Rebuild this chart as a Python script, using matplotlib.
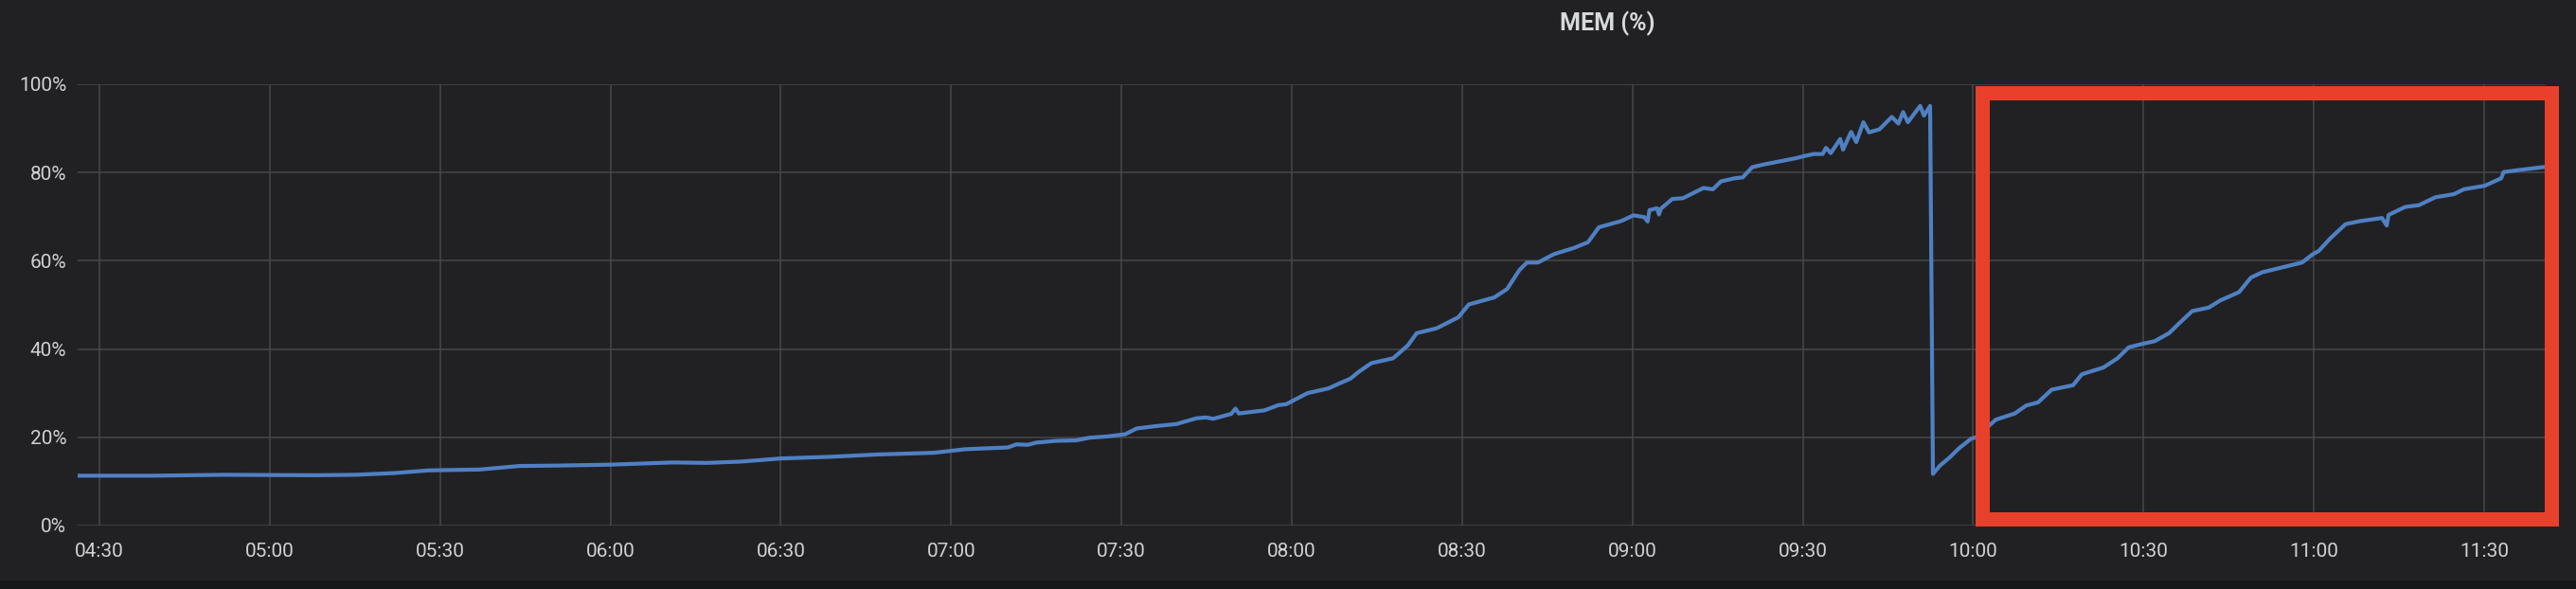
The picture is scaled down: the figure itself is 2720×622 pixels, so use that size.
import matplotlib
matplotlib.use('Agg')
import matplotlib.pyplot as plt
import matplotlib.dates as mdates
from matplotlib.patches import Rectangle
import pandas as pd

plt.rcParams['font.family'] = ['Roboto', 'DejaVu Sans']

# memory usage samples (time of day, percent)
times = [
    '04:26:00', '04:39:30', '04:52:00', '05:08:00', '05:15:00', '05:22:00', '05:28:00',
    '05:37:00', '05:44:00', '05:51:00', '06:00:00', '06:11:00', '06:17:00', '06:23:00',
    '06:30:00', '06:39:00', '06:47:00', '06:57:00', '07:02:30', '07:10:00', '07:11:30',
    '07:13:30', '07:15:00', '07:18:30', '07:22:00', '07:24:20', '07:27:30', '07:30:40',
    '07:32:40', '07:35:50', '07:39:40', '07:43:10', '07:44:50', '07:46:10', '07:49:20',
    '07:50:05', '07:50:40', '07:55:10', '07:57:40', '07:59:00', '08:02:45', '08:06:30',
    '08:07:40', '08:10:20', '08:11:45', '08:14:00', '08:17:50', '08:20:25', '08:22:00',
    '08:25:30', '08:29:20', '08:31:10', '08:35:40', '08:37:55', '08:40:05', '08:41:25',
    '08:43:20', '08:46:10', '08:49:40', '08:52:10', '08:54:05', '08:58:00', '09:00:10',
    '09:02:05', '09:02:40', '09:03:00', '09:04:20', '09:04:40', '09:05:00', '09:07:00',
    '09:08:55', '09:12:30', '09:14:10', '09:15:35', '09:18:00', '09:19:25', '09:21:05',
    '09:23:00', '09:25:50', '09:28:35', '09:30:10', '09:31:55', '09:33:30', '09:34:05',
    '09:34:55', '09:36:35', '09:37:05', '09:38:30', '09:39:25', '09:40:40', '09:41:40',
    '09:43:30', '09:45:40', '09:46:50', '09:47:40', '09:48:30', '09:50:40', '09:51:20',
    '09:52:25', '09:52:55', '09:54:10', '09:55:50', '09:57:30', '09:59:40', '10:00:30',
    '10:04:00', '10:07:20', '10:09:20', '10:11:25', '10:13:50', '10:17:35', '10:19:10',
    '10:22:55', '10:25:25', '10:27:25', '10:29:35', '10:32:00', '10:34:30', '10:36:30',
    '10:38:35', '10:41:30', '10:43:30', '10:46:50', '10:48:55', '10:50:55', '10:55:05',
    '10:57:55', '10:59:50', '11:00:50', '11:02:55', '11:05:35', '11:08:10', '11:12:00',
    '11:12:50', '11:13:10', '11:16:05', '11:18:30', '11:21:25', '11:24:40', '11:26:25',
    '11:30:05', '11:33:00', '11:33:25', '11:36:20', '11:40:50',
]
mem_pct = [
    11.3, 11.3, 11.5, 11.4, 11.5, 11.9, 12.5,
    12.7, 13.5, 13.6, 13.8, 14.3, 14.2, 14.5,
    15.2, 15.6, 16.1, 16.5, 17.3, 17.7, 18.4,
    18.3, 18.8, 19.2, 19.3, 19.9, 20.2, 20.7,
    22.0, 22.5, 23.0, 24.3, 24.5, 24.2, 25.3,
    26.5, 25.4, 26.1, 27.3, 27.5, 30.0, 31.1,
    31.8, 33.3, 34.8, 36.8, 37.9, 40.8, 43.6,
    44.7, 47.2, 50.1, 51.7, 53.6, 57.9, 59.6,
    59.6, 61.5, 62.9, 64.2, 67.6, 69.0, 70.3,
    69.9, 68.9, 71.5, 71.9, 70.5, 71.8, 74.0,
    74.2, 76.5, 76.2, 78.0, 78.7, 78.9, 81.2,
    81.8, 82.5, 83.2, 83.7, 84.2, 84.2, 85.6,
    84.4, 87.6, 85.2, 89.2, 86.9, 91.4, 89.1,
    89.8, 92.6, 91.1, 93.7, 91.4, 95.1, 92.9,
    95.1, 11.7, 13.6, 15.4, 17.5, 19.7, 20.0,
    24.0, 25.4, 27.2, 27.9, 30.8, 31.8, 34.3,
    35.8, 37.9, 40.4, 41.1, 41.8, 43.6, 46.1,
    48.6, 49.4, 51.0, 52.9, 56.2, 57.4, 58.7,
    59.6, 61.5, 62.2, 65.1, 68.3, 69.0, 69.7,
    68.0, 70.4, 72.2, 72.6, 74.4, 75.1, 76.2,
    77.0, 78.7, 80.1, 80.6, 81.3,
]
y_ticks = [0, 20, 40, 60, 80, 100]
title = 'MEM (%)'

day = '2021-01-01 '
t = pd.to_datetime([day + s for s in times])

bg = '#212124'
fig = plt.figure(figsize=(27.2, 6.22), dpi=100, facecolor='#161719')
fig.add_artist(Rectangle((0, 9 / 622), 1, 1, transform=fig.transFigure,
                         facecolor=bg, edgecolor='none', zorder=-10))

ax = fig.add_axes([82 / 2720, 1 - 555 / 622, (2688 - 82) / 2720, (555 - 89) / 622])
ax.set_facecolor(bg)
ax.plot(t, mem_pct, color='#4f80c2', lw=3.0, solid_joinstyle='round')

ax.set_ylim(0, 100)
ax.set_yticks(y_ticks)
ax.set_yticklabels([f'{v}%' for v in y_ticks])
ax.set_xlim(pd.Timestamp(day + '04:26:10'), pd.Timestamp(day + '11:40:50'))
ax.xaxis.set_major_locator(mdates.MinuteLocator(byminute=[0, 30]))
ax.xaxis.set_major_formatter(mdates.DateFormatter('%H:%M'))

ax.grid(True, color='#48484b', lw=1.1)
ax.set_axisbelow(True)
for s in ax.spines.values():
    s.set_visible(False)
ax.tick_params(axis='both', length=0, labelsize=15, labelcolor='#d0d1d3')
ax.tick_params(axis='y', pad=8.5)
ax.tick_params(axis='x', pad=13)

fig.text(1697 / 2720, 1 - 25 / 622, title, ha='center', va='center',
         fontsize=18, fontweight='bold', color='#d8d9da')

# highlight box drawn over the last part of the chart
fig.add_artist(Rectangle((2092.5 / 2720, 1 - 547.5 / 622), (2694 - 2092.5) / 2720,
                         (547.5 - 97.5) / 622, transform=fig.transFigure, fill=False,
                         edgecolor='#e8412b', lw=10.8, joinstyle='miter', zorder=10))

fig.savefig('out.png', dpi=100, facecolor=fig.get_facecolor())
